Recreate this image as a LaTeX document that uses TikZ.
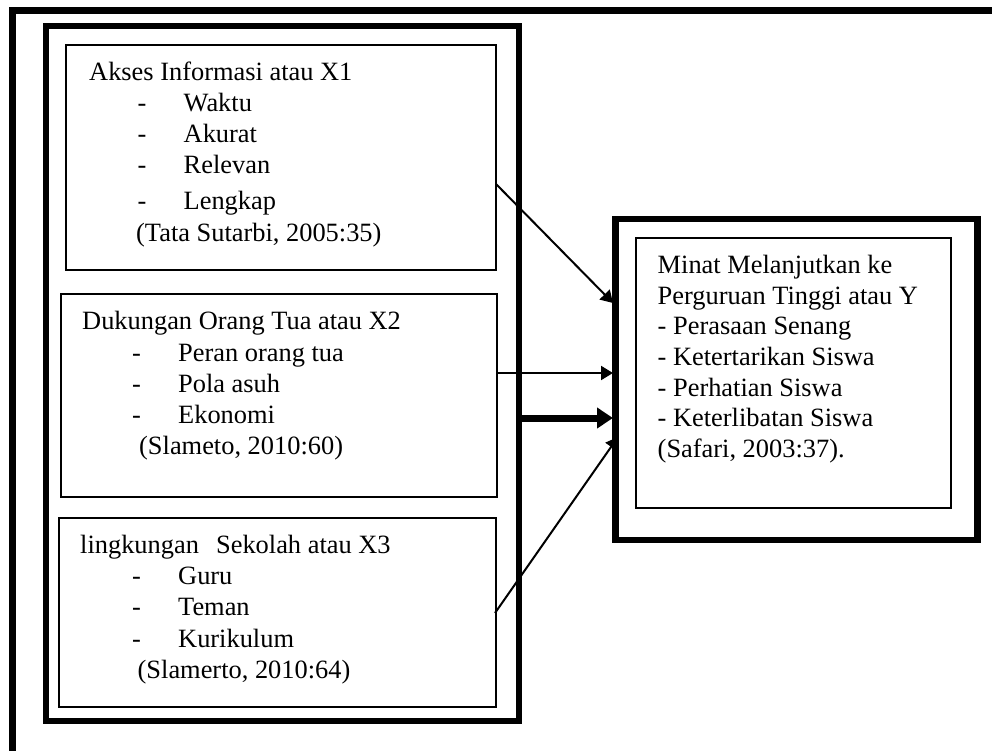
\documentclass[tikz,border=0pt]{standalone}
\usepackage{fontspec}
\setmainfont{Liberation Serif}
\usetikzlibrary{arrows.meta,calc}
\newcommand{\dashitem}[1]{\makebox[46pt][l]{-}#1}
\begin{document}
\begin{tikzpicture}[x=1pt,y=-1pt,
  txt/.style={anchor=base west,inner sep=0pt,font=\fontsize{26.4}{31}\selectfont},
  thinbox/.style={draw,line width=1.6pt,anchor=north west,inner sep=0pt,outer sep=0pt},
  thickframe/.style={draw,line width=6.5pt,anchor=north west,inner sep=0pt,outer sep=0pt},
  conn/.style={line width=2pt,-{Triangle[length=12pt,width=14pt]}},
  thickconn/.style={line width=7pt,-{Triangle[length=16pt,width=20pt]}}]
\useasboundingbox (0,0) rectangle (992,751);
\clip (0,0) rectangle (992,751);
\fill[white] (0,0) rectangle (992,751);
% outer page frame (runs off the picture)
\draw[line width=6.5pt] (1010,10.5) -- (12.5,10.5) -- (12.5,770);
% left frame
\node[thickframe,minimum width=473pt,minimum height=695pt] (fr) at (46,26) {};
% boxes
\node[thinbox,minimum width=430pt,minimum height=225pt] (b1) at (66,45) {};
\node[thinbox,minimum width=436pt,minimum height=203pt] (b2) at (61,294) {};
\node[thinbox,minimum width=437pt,minimum height=189pt] (b3) at (59,518) {};
\node[thickframe,minimum width=362pt,minimum height=321pt] (yo) at (615.5,219) {};
\node[thinbox,minimum width=315pt,minimum height=270pt] (yi) at (636,238) {};
% texts box 1
\node[txt] (t1a) at (89,81) {Akses Informasi atau X1};
\node[txt] (t1b) at (137.5,112) {\dashitem{Waktu}};
\node[txt] (t1c) at (137.5,143) {\dashitem{Akurat}};
\node[txt] (t1d) at (137.5,174) {\dashitem{Relevan}};
\node[txt] (t1e) at (137.5,210) {\dashitem{Lengkap}};
\node[txt] (t1f) at (136,241) {(Tata Sutarbi, 2005:35)};
% texts box 2
\node[txt] (t2a) at (82,329) {Dukungan Orang Tua atau X2};
\node[txt] (t2b) at (132,361) {\dashitem{Peran orang tua}};
\node[txt] (t2c) at (132,392) {\dashitem{Pola asuh}};
\node[txt] (t2d) at (132,423) {\dashitem{Ekonomi}};
\node[txt] (t2e) at (139,454) {(Slameto, 2010:60)};
% texts box 3
\node[txt] (t3a) at (80,553) {lingkungan\hspace{0.4em} Sekolah atau X3};
\node[txt] (t3b) at (132,584) {\dashitem{Guru}};
\node[txt] (t3c) at (132,615) {\dashitem{Teman}};
\node[txt] (t3d) at (132,647) {\dashitem{Kurikulum}};
\node[txt] (t3e) at (137.5,678) {(Slamerto, 2010:64)};
% texts Y
\node[txt] (ya) at (657.5,273) {Minat Melanjutkan ke};
\node[txt] (yb) at (657.5,304) {Perguruan Tinggi atau Y};
\node[txt] (yc) at (657.5,334) {- Perasaan Senang};
\node[txt] (yd) at (657.5,365) {- Ketertarikan Siswa};
\node[txt] (ye) at (657.5,396) {- Perhatian Siswa};
\node[txt] (yf) at (657.5,426) {- Keterlibatan Siswa};
\node[txt] (yg) at (657.5,457) {(Safari, 2003:37).};
% connectors
\draw[conn] ($(b1.east)+(0,26.5)$) -- ($(yo.west)+(-2.5,-76.5)$);
\draw[conn] ($(b2.east)+(-1,-22.5)$) -- ($(yo.west)+(-2.5,-6.5)$);
\draw[thickconn] ($(fr.east)+(0,44.5)$) -- ($(yo.west)+(-2.5,38.5)$);
\draw[conn] ($(b3.east)+(-1,0.5)$) -- ($(yo.west)+(2.5,57.5)$);
\end{tikzpicture}
\end{document}
